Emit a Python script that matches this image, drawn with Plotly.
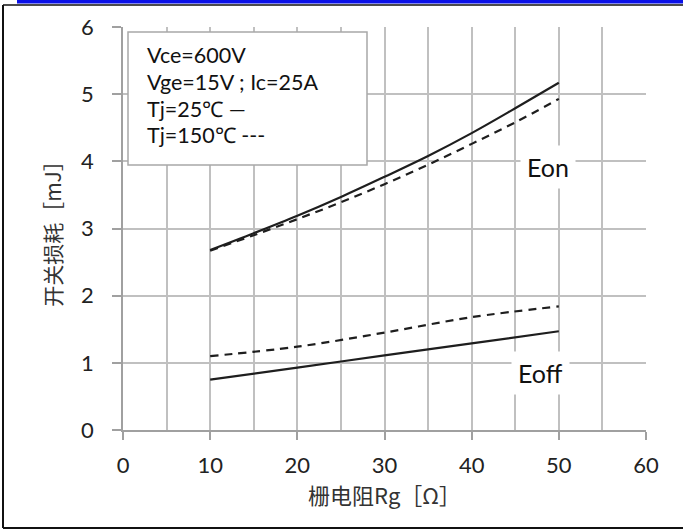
import plotly.graph_objects as go

# ---- data ----
rg = [10, 15, 20, 25, 30, 35, 40, 45, 50]
eon_25 = [2.68, 2.93, 3.19, 3.47, 3.77, 4.08, 4.42, 4.79, 5.17]
eon_150 = [2.67, 2.90, 3.14, 3.39, 3.66, 3.95, 4.26, 4.58, 4.93]
rg_off = [10, 20, 30, 40, 50]
eoff_25 = [0.75, 0.93, 1.11, 1.29, 1.47]
eoff_150 = [1.10, 1.24, 1.45, 1.68, 1.84]

x_ticks = [0, 10, 20, 30, 40, 50, 60]
y_ticks = [0, 1, 2, 3, 4, 5, 6]
box_lines = ["Vce=600V", "Vge=15V ; Ic=25A", "Tj=25℃ —", "Tj=150℃ ---"]

W, H = 683, 531
L, R, T, B = 123, 37, 27, 101
PW, PH = W - L - R, H - T - B


def fx(px):
    return (px - L) / PW


def fy(py):
    return (H - B - py) / PH


LAT = "Lato, 'Open Sans', sans-serif"
CJK = "'Noto Sans CJK SC', sans-serif"
GRID = "#c0c0c0"
LINE = "#1e1e1e"

fig = go.Figure()
fig.add_trace(go.Scatter(x=rg, y=eon_25, mode="lines", line=dict(color=LINE, width=2.2, shape="spline"), showlegend=False))
fig.add_trace(go.Scatter(x=rg, y=eon_150, mode="lines", line=dict(color=LINE, width=2.2, dash="8px,6px", shape="spline"), showlegend=False))
fig.add_trace(go.Scatter(x=rg_off, y=eoff_25, mode="lines", line=dict(color=LINE, width=2.2, shape="spline"), showlegend=False))
fig.add_trace(go.Scatter(x=rg_off, y=eoff_150, mode="lines", line=dict(color=LINE, width=2.2, dash="8px,6px", shape="spline"), showlegend=False))

shapes = []
# outer frame
shapes.append(dict(type="rect", xref="paper", yref="paper", x0=fx(17), x1=fx(683), y0=fy(0), y1=fy(3.5),
                   fillcolor="#0a10e8", line=dict(width=0), layer="above"))
shapes.append(dict(type="line", xref="paper", yref="paper", x0=fx(3), x1=fx(683), y0=fy(5), y1=fy(5),
                   line=dict(color="#111", width=1.5), layer="above"))
shapes.append(dict(type="line", xref="paper", yref="paper", x0=fx(3), x1=fx(3), y0=fy(5), y1=fy(528),
                   line=dict(color="#111", width=2), layer="above"))
shapes.append(dict(type="line", xref="paper", yref="paper", x0=fx(3), x1=fx(683), y0=fy(528), y1=fy(528),
                   line=dict(color="#111", width=2), layer="above"))
# text box
shapes.append(dict(type="rect", xref="paper", yref="paper", x0=fx(128), x1=fx(367), y0=fy(32), y1=fy(165),
                   fillcolor="white", line=dict(color="#a8a8a8", width=1.5), layer="above"))

annotations = []
for i, (txt, py) in enumerate(zip(box_lines, [55, 82, 109, 135])):
    annotations.append(dict(xref="paper", yref="paper", x=fx(145), y=fy(py), xanchor="left", yanchor="middle",
                            text=txt, showarrow=False, font=dict(family=LAT, size=21.5, color="#111")))

annotations.append(dict(x=48.7, y=3.92, xref="x", yref="y", text="Eon", showarrow=False,
                        font=dict(family=LAT, size=25, color="#111"), bgcolor="white", borderpad=6))
annotations.append(dict(x=47.9, y=0.85, xref="x", yref="y", text="Eoff", showarrow=False,
                        font=dict(family=LAT, size=25, color="#111"), bgcolor="white", borderpad=6))

fig.update_layout(
    width=W, height=H,
    margin=dict(l=L, r=R, t=T, b=B),
    paper_bgcolor="white", plot_bgcolor="white",
    shapes=shapes, annotations=annotations,
    xaxis=dict(range=[0, 60], tickvals=x_ticks, ticktext=[str(v) for v in x_ticks],
               showgrid=True, gridcolor=GRID, gridwidth=1.5,
               minor=dict(dtick=5, showgrid=True, gridcolor=GRID, gridwidth=1.5, ticks=""),
               showline=True, linecolor="#a0a0a0", linewidth=1.5,
               ticks="outside", ticklen=8, tickcolor="#a0a0a0", tickwidth=1.5,
               ticklabelstandoff=7,
               tickfont=dict(family=LAT, size=22, color="#222"), zeroline=False,
               title=dict(text="栅电阻Rg［Ω］", font=dict(family=CJK, size=22, color="#333"), standoff=11)),
    yaxis=dict(range=[0, 6], tickvals=y_ticks, ticktext=[str(v) for v in y_ticks],
               showgrid=True, gridcolor=GRID, gridwidth=1.5,
               showline=True, linecolor="#a0a0a0", linewidth=1.5, mirror=False,
               ticks="outside", ticklen=9, tickcolor="#a0a0a0", tickwidth=1.5,
               ticklabelstandoff=14,
               tickfont=dict(family=LAT, size=22, color="#222"), zeroline=False,
               title=dict(text="开关损耗［mJ］", font=dict(family=CJK, size=21, color="#333"), standoff=14)),
)

fig.write_html("out.html")
